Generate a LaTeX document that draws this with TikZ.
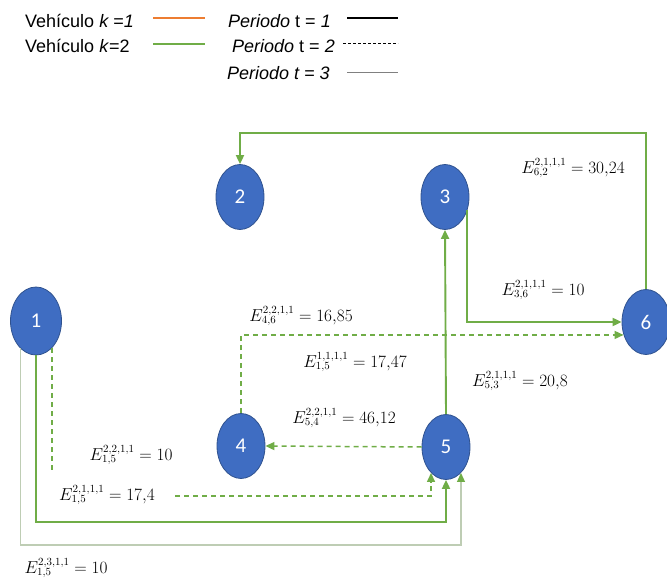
\documentclass[tikz,border=0pt]{standalone}
\usepackage{fontspec}
\setmainfont{Liberation Sans}
\newfontfamily\nodefont{Carlito}
\usetikzlibrary{shapes.geometric,arrows.meta,calc}
\definecolor{gk1}{HTML}{ED7D31}
\definecolor{gk2}{HTML}{70AD47}
\definecolor{nblue}{HTML}{3F6DC2}
\definecolor{nedge}{HTML}{2F528F}
\definecolor{t3c}{RGB}{190,205,180}
\begin{document}
\begin{tikzpicture}[x=1pt,y=-1pt,
  vnode/.style={ellipse, fill=nblue, draw=nedge, line width=0.8pt, minimum width=48pt, minimum height=65pt, inner sep=0pt, text=white, font=\nodefont\fontsize{21}{21}\selectfont},
  lab/.style={font=\fontsize{16}{18}\selectfont, inner sep=0pt},
  tip/.style={-{Triangle[length=9pt,width=8pt,color=gk2]}},
  p1/.style={draw=gk2, line width=1.9pt},
  p2/.style={draw=gk2, line width=1.5pt, dash pattern=on 5pt off 4pt},
  p3/.style={draw=t3c, line width=1.1pt},
  leg/.style={font=\fontsize{18}{20}\selectfont, anchor=west, inner sep=0pt},
  legline/.style={line width=1.2pt}
]
\useasboundingbox (0,0) rectangle (667,580);

% legend
\node[leg] (lk1) at (25,21) {Vehículo \textit{k =1}};
\node[leg] (lk2) at (25,46) {Vehículo \textit{k}=2};
\node[leg] (lt1) at (228,21) {\textit{Periodo} t = \textit{1}};
\node[leg] (lt2) at (232,46) {\textit{Periodo} t = \textit{2}};
\node[leg] (lt3) at (227,73) {\textit{Periodo t = 3}};
\draw[legline, gk1] (153,18) -- (205,18);
\draw[legline, gk2] (153,44) -- (205,44);
\draw[legline, black] (347,18) -- (398,18);
\draw[line width=1pt, black, dash pattern=on 3pt off 2pt] (343,44) -- (398,44);
\draw[line width=1pt, gray] (347,73) -- (398,73);

% nodes
\node[vnode, minimum width=51pt, minimum height=68pt] (n1) at (36,321) {1};
\node[vnode] (n2) at (240,197) {2};
\node[vnode] (n3) at (445,197) {3};
\node[vnode] (n4) at (241,446) {4};
\node[vnode] (n5) at (446,447) {5};
\node[vnode] (n6) at (646,322) {6};

% helper coordinates
\coordinate (y62) at (0,133);
\coordinate (ya) at (0,522);
\coordinate (yc) at (0,545);
\coordinate (yd) at (0,472);
\coordinate (c2s) at (175,496);

% connectors
\draw[p1, tip] (n6.north) -- (n6.north |- y62) -| (n2.north);
\draw[p1, tip] (n3.-30) |- (n6.west);
\draw[p1, tip] (n5.north) -- (n3.south);
\draw[p2, tip] (n4.north) |- (n6.210);
\draw[p2, tip] (n5.west) -- (n4.east);
\draw[p1, tip] (n1.south) -- (n1.south |- ya) -| (n5.south);
\draw[p3, tip] (n1.240) -- (n1.240 |- yc) -| (n5.-60);
\draw[p2] (n1.-60) -- (n1.-60 |- yd);
\draw[p2, tip] (c2s) -| (n5.-120);

% labels
\node[lab] (l62) at (573,168) {$E^{2,1,1,1}_{6,2} = 30{,}24$};
\node[lab] (l36) at (543,290) {$E^{2,1,1,1}_{3,6} = 10$};
\node[lab] (l46) at (301,316) {$E^{2,2,1,1}_{4,6} = 16{,}85$};
\node[lab] (l15a) at (355,362) {$E^{1,1,1,1}_{1,5} = 17{,}47$};
\node[lab] (l53) at (520,381) {$E^{2,1,1,1}_{5,3} = 20{,}8$};
\node[lab] (l54) at (344,418) {$E^{2,2,1,1}_{5,4} = 46{,}12$};
\node[lab] (l15b) at (131,455) {$E^{2,2,1,1}_{1,5} = 10$};
\node[lab] (l15c) at (107,495) {$E^{2,1,1,1}_{1,5} = 17{,}4$};
\node[lab] (l15d) at (66,568) {$E^{2,3,1,1}_{1,5} = 10$};
\end{tikzpicture}
\end{document}
